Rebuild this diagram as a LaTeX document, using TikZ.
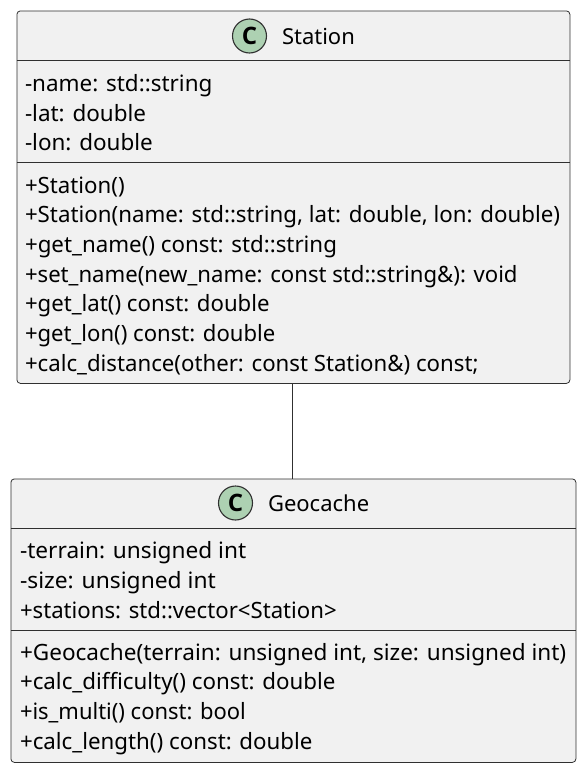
\documentclass[tikz,border=0pt]{standalone}
\usepackage{graphicx}
\usepackage{fontspec}
\setmainfont{Noto Sans}
\newfontfamily\spotfont{Open Sans}
\newcommand{\hfit}[2]{\scalebox{#1}[1]{#2}}
\definecolor{boxfill}{HTML}{F1F1F1}
\definecolor{boxline}{HTML}{303030}
\definecolor{spotfill}{HTML}{ADD1B2}
\tikzset{
  x=1pt,y=-1pt,
  classbox/.style={draw=boxline,fill=boxfill,line width=0.8pt,rounded corners=3.5pt},
  divider/.style={draw=boxline,line width=0.8pt},
  member/.style={anchor=base west,inner sep=0pt,outer sep=0pt,font=\fontsize{22.45}{26}\selectfont,text=black},
  title/.style={anchor=base west,inner sep=0pt,outer sep=0pt,font=\fontsize{22}{26}\selectfont,text=black},
  spot/.style={circle,draw=boxline,fill=spotfill,line width=1.1pt,minimum size=34pt,inner sep=0pt,font=\spotfont\fontsize{24}{26}\selectfont\bfseries,text=black},
  link/.style={draw=boxline,line width=1.5pt}
}
\begin{document}
\begin{tikzpicture}
\useasboundingbox (0,0) rectangle (584,771);
\node[classbox,minimum width=553pt,minimum height=372.5pt,anchor=north west,inner sep=0pt] (station) at (16.5,10.5) {};
\node[classbox,minimum width=565pt,minimum height=283.5pt,anchor=north west,inner sep=0pt] (geocache) at (10.5,478.5) {};
\draw[link] (station.south -| 292.7,0) -- (geocache.north -| 292.7,0);
\draw[divider] (16.5,60.5) -- (569.5,60.5);
\draw[divider] (16.5,162.5) -- (569.5,162.5);
\draw[divider] (10.5,528.5) -- (575.5,528.5);
\draw[divider] (10.5,630.5) -- (575.5,630.5);
\node[spot] (s1) at (249.5,36) {C};
\node[title] (t1) at (282,44) {Station};
\node[spot] (s2) at (235.5,503) {C};
\node[title] (t2) at (268,511) {Geocache};
\node[member] (a1) at (25,91) {-name: std::string};
\node[member] (a2) at (25,121) {-lat: double};
\node[member] (a3) at (25,150) {-lon: double};
\node[member] (m1) at (25,193) {\hfit{0.99}{+Station()}};
\node[member] (m2) at (25,222.5) {\hfit{0.9926}{+Station(name: std::string, lat: double, lon: double)}};
\node[member] (m3) at (25,252) {\hfit{0.9936}{+get\_name() const: std::string}};
\node[member] (m4) at (25,282) {\hfit{0.986}{+set\_name(new\_name: const std::string\&): void}};
\node[member] (m5) at (25,311.5) {\hfit{0.988}{+get\_lat() const: double}};
\node[member] (m6) at (25,341.5) {\hfit{0.984}{+get\_lon() const: double}};
\node[member] (m7) at (25,371.5) {\hfit{0.989}{+calc\_distance(other: const Station\&) const;}};
\node[member] (b1) at (20,558) {\hfit{1.009}{-terrain: unsigned int}};
\node[member] (b2) at (20,588) {\hfit{1.016}{-size: unsigned int}};
\node[member] (b3) at (20,618) {\hfit{0.9875}{+stations: std::vector<Station>}};
\node[member] (n1) at (20,660) {\hfit{1.004}{+Geocache(terrain: unsigned int, size: unsigned int)}};
\node[member] (n2) at (20,689.5) {\hfit{0.994}{+calc\_difficulty() const: double}};
\node[member] (n3) at (20,719) {\hfit{0.978}{+is\_multi() const: bool}};
\node[member] (n4) at (20,749) {\hfit{0.993}{+calc\_length() const: double}};
\end{tikzpicture}
\end{document}
